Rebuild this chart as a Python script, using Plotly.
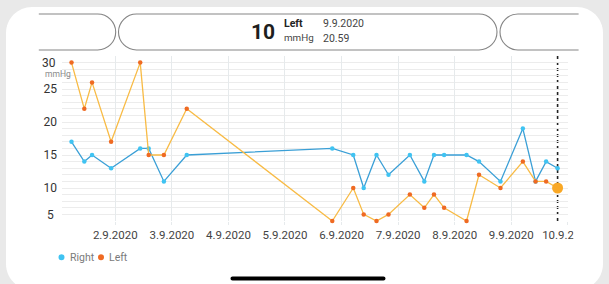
import plotly.graph_objects as go

# ---------------- data ----------------
times = ["2020-09-01 05:25", "2020-09-01 10:51", "2020-09-01 14:08", "2020-09-01 22:13",
         "2020-09-02 10:34", "2020-09-02 14:10", "2020-09-02 20:37", "2020-09-03 06:19",
         "2020-09-05 20:04", "2020-09-06 04:58", "2020-09-06 09:24", "2020-09-06 14:50",
         "2020-09-06 19:55", "2020-09-07 04:59", "2020-09-07 11:07", "2020-09-07 15:13",
         "2020-09-07 19:31", "2020-09-08 05:02", "2020-09-08 10:19", "2020-09-08 19:26",
         "2020-09-09 04:55", "2020-09-09 10:19", "2020-09-09 14:48", "2020-09-09 19:40"]
right = [17, 14, 15, 13, 16, 16, 11, 15, 16, 15, 10, 15, 12, 15, 11, 15, 15, 15, 14, 11, 19, 11, 14, 13]
left = [29, 22, 26, 17, 29, 15, 15, 22, 5, 10, 6, 5, 6, 9, 7, 9, 7, 5, 12, 10, 14, 11, 11, 10]
tick_dates = ["2020-09-02", "2020-09-03", "2020-09-04", "2020-09-05", "2020-09-06",
              "2020-09-07", "2020-09-08", "2020-09-09", "2020-09-10"]
tick_labels = ["2.9.2020", "3.9.2020", "4.9.2020", "5.9.2020", "6.9.2020",
               "7.9.2020", "8.9.2020", "9.9.2020", "10.9.2020"]
y_ticks = [10, 15, 20, 25]
selected = len(times) - 1
sel_date, sel_time = "9.9.2020", "20.59"

# ---------------- styling ----------------
FONT = "Roboto"
C_R_LINE, C_R_MK = "#3a9fd6", "#3fc3f2"
C_L_LINE, C_L_MK = "#f8bb45", "#ef6a22"
C_SEL = "#f9a825"

W, H = 609, 284
Lm, Rm, Tm, Bm = 62, 41, 56, 63
PW, PH = W - Lm - Rm, H - Tm - Bm
BOT = H - Bm


def X(px):
    return (px - Lm) / PW


def Y(py):
    return (BOT - py) / PH


def P(x, y):
    return f"{X(x):.5f},{Y(y):.5f}"


K = 0.5523


def rrect(x0, y0, x1, y1, r):
    k = K * r
    return (f"M {P(x0 + r, y0)} L {P(x1 - r, y0)} C {P(x1 - r + k, y0)} {P(x1, y0 + r - k)} {P(x1, y0 + r)} "
            f"L {P(x1, y1 - r)} C {P(x1, y1 - r + k)} {P(x1 - r + k, y1)} {P(x1 - r, y1)} "
            f"L {P(x0 + r, y1)} C {P(x0 + r - k, y1)} {P(x0, y1 - r + k)} {P(x0, y1 - r)} "
            f"L {P(x0, y0 + r)} C {P(x0, y0 + r - k)} {P(x0 + r - k, y0)} {P(x0 + r, y0)} Z")


fig = go.Figure()

fig.add_trace(go.Scatter(x=times, y=right, mode="lines+markers", name="Right",
                         line=dict(color=C_R_LINE, width=1.3),
                         marker=dict(color=C_R_MK, size=4.5), cliponaxis=False, showlegend=False))
fig.add_trace(go.Scatter(x=times, y=left, mode="lines+markers", name="Left",
                         line=dict(color=C_L_LINE, width=1.3),
                         marker=dict(color=C_L_MK, size=4.5), cliponaxis=False, showlegend=False))
fig.add_trace(go.Scatter(x=[times[selected]], y=[left[selected]], mode="markers",
                         marker=dict(color=C_SEL, size=11), cliponaxis=False, showlegend=False,
                         hoverinfo="skip"))

shapes = []
# white card
shapes.append(dict(type="path", xref="paper", yref="paper", layer="below",
                   path=rrect(6, 7, 603, 290, 26), fillcolor="white", line=dict(width=0)))
# header pills
pill_line = dict(color="#858585", width=1.1)
r = 18
k = K * r
shapes.append(dict(type="path", xref="paper", yref="paper", layer="below",
                   path=rrect(118.5, 14, 497, 50, 18), fillcolor="white", line=pill_line))
a = 115.7 - r
shapes.append(dict(type="path", xref="paper", yref="paper", layer="below",
                   path=(f"M {P(38.8, 14)} L {P(a, 14)} C {P(a + k, 14)} {P(a + r, 32 - k)} {P(a + r, 32)} "
                         f"C {P(a + r, 32 + k)} {P(a + k, 50)} {P(a, 50)} L {P(38.8, 50)}"),
                   fillcolor="rgba(0,0,0,0)", line=pill_line))
b = 500 + r
shapes.append(dict(type="path", xref="paper", yref="paper", layer="below",
                   path=(f"M {P(578.6, 14)} L {P(b, 14)} C {P(b - k, 14)} {P(b - r, 32 - k)} {P(b - r, 32)} "
                         f"C {P(b - r, 32 + k)} {P(b - k, 50)} {P(b, 50)} L {P(578.6, 50)}"),
                   fillcolor="rgba(0,0,0,0)", line=pill_line))
# selection line
shapes.append(dict(type="line", xref="x", yref="paper", layer="below",
                   x0=times[selected], x1=times[selected], y0=0, y1=1,
                   line=dict(color="#222222", width=1.6, dash="dot")))
# cover for truncated last tick label
shapes.append(dict(type="rect", xref="paper", yref="paper", layer="above",
                   x0=X(573.5), x1=X(600), y0=Y(244), y1=Y(227),
                   fillcolor="white", line=dict(width=0)))
# legend dots
for cx, col in [(61.5, C_R_MK), (101, C_L_MK)]:
    shapes.append(dict(type="circle", xref="paper", yref="paper", layer="above",
                       x0=X(cx - 3), x1=X(cx + 3), y0=Y(257.3 + 3), y1=Y(257.3 - 3),
                       fillcolor=col, line=dict(width=0)))
# home indicator
shapes.append(dict(type="path", xref="paper", yref="paper", layer="above",
                   path=rrect(230.5, 276.5, 385.5, 280.5, 2), fillcolor="black", line=dict(width=0)))

ann = []


def text(t, x, y, size, color, xanchor="left", bold=False, yanchor="middle"):
    ann.append(dict(text=f"<b>{t}</b>" if bold else t, x=X(x), y=Y(y), xref="paper", yref="paper",
                    xanchor=xanchor, yanchor=yanchor, showarrow=False, borderpad=0,
                    font=dict(family=FONT, size=size, color=color)))


text(str(left[selected]), 262.8, 31.5, 21, "#1e1e1e", xanchor="center", bold=True)
text("Left", 282.5, 30.5, 10.5, "#222222", bold=True, yanchor="bottom")
text("mmHg", 282.5, 30.5, 9.8, "#444444", yanchor="top")
text(sel_date, 322, 30.5, 10.5, "#444444", yanchor="bottom")
text(sel_time, 322, 30.5, 10.5, "#444444", yanchor="top")
text("30", 56.5, 63.5, 12, "#333333", xanchor="right")
text("5", 50, 214.5, 12, "#333333", xanchor="center")
text("mmHg", 43.5, 74.5, 8.5, "#888888")
text("Right", 68.5, 257.3, 10.5, "#7a7a7a")
text("Left", 108, 257.3, 10.5, "#7a7a7a")

fig.update_layout(
    width=W, height=H, margin=dict(l=Lm, r=Rm, t=Tm, b=Bm),
    paper_bgcolor="#e9e9e9", plot_bgcolor="rgba(0,0,0,0)",
    font=dict(family=FONT, color="#333333"),
    showlegend=False, shapes=shapes, annotations=ann,
    xaxis=dict(type="date", range=["2020-09-01 01:23", "2020-09-10 00:05"],
               tickvals=tick_dates, ticktext=tick_labels,
               showgrid=True, gridcolor="#e6eaec", gridwidth=1,
               ticks="outside", ticklen=3, tickcolor="#e6eaec",
               tickfont=dict(size=11.5, color="#444444"),
               showline=False, zeroline=False, fixedrange=True),
    yaxis=dict(range=[5, 30], tickvals=y_ticks, ticks="", ticklabelstandoff=4,
               tickfont=dict(size=12, color="#333333"),
               showgrid=True, gridcolor="#ececec", gridwidth=1,
               minor=dict(dtick=1, tick0=0, showgrid=True, gridcolor="#ececec", gridwidth=1),
               showline=False, zeroline=False, fixedrange=True),
)

fig.write_html("out.html", config={"displayModeBar": False},
               post_script="document.body.style.margin='0';document.body.style.padding='0';"
                           "document.body.style.background='#e9e9e9';")
